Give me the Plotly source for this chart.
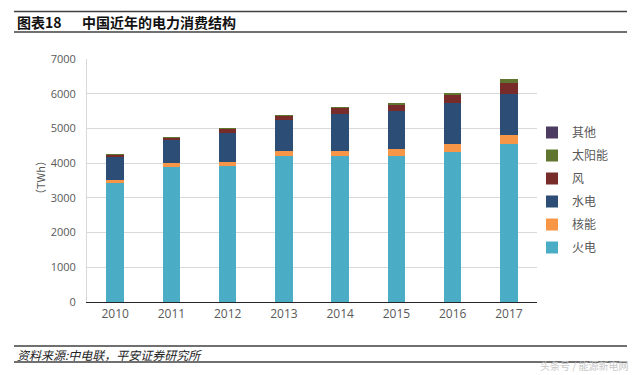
import plotly.graph_objects as go

years = ["2010", "2011", "2012", "2013", "2014", "2015", "2016", "2017"]
thermal = [3416, 3900, 3910, 4220, 4220, 4220, 4320, 4555]
nuclear = [85, 100, 110, 120, 135, 180, 230, 255]
hydro = [690, 680, 860, 890, 1070, 1110, 1175, 1185]
wind = [45, 70, 110, 145, 165, 190, 240, 305]
solar = [1, 3, 4, 8, 23, 39, 70, 118]
other = [0, 0, 0, 0, 0, 0, 0, 0]

series = [
    ("火电", thermal, "#4BACC6"),
    ("核能", nuclear, "#F79646"),
    ("水电", hydro, "#2C4D75"),
    ("风", wind, "#772C2A"),
    ("太阳能", solar, "#5F7530"),
    ("其他", other, "#4D3B62"),
]

W, H = 640, 375
L, R, T, B = 87, 537, 59, 302

fig = go.Figure()
for i, (name, vals, col) in enumerate(series):
    fig.add_trace(go.Bar(x=years, y=vals, name=name, legendgroup=name, legendrank=1000 - i,
                         marker=dict(color=col, line=dict(width=0))))

def px(x):
    return (x - L) / (R - L)

def py(y):
    return (B - y) / (B - T)

shapes = []
for yy in [11.5, 32, 346, 362]:
    shapes.append(dict(type="line", xref="paper", yref="paper", x0=px(14), x1=px(627), y0=py(yy), y1=py(yy),
                       line=dict(color="#404040", width=1.3)))

annotations = [
    dict(text="<b>图表18</b>", x=px(15), y=py(22), xref="paper", yref="paper", xanchor="left", yanchor="middle",
         showarrow=False, font=dict(size=14, color="#111111", family="Noto Sans CJK SC")),
    dict(text="<b>中国近年的电力消费结构</b>", x=px(80), y=py(22), xref="paper", yref="paper", xanchor="left", yanchor="middle",
         showarrow=False, font=dict(size=14, color="#111111", family="Noto Sans CJK SC")),
    dict(text="<i>资料来源:中电联，平安证券研究所</i>", x=px(15), y=py(354), xref="paper", yref="paper", xanchor="left",
         yanchor="middle", showarrow=False, font=dict(size=12, color="#222222", family="Noto Sans CJK SC")),
    dict(text="（TWh）", x=px(40), y=py(178), xref="paper", yref="paper", textangle=-90, xanchor="center",
         yanchor="middle", showarrow=False, font=dict(size=11, color="#595959", family="Noto Sans CJK SC")),
    dict(text="头条号 / 能源新电网", x=px(630), y=py(365), xref="paper", yref="paper", xanchor="right",
         yanchor="middle", showarrow=False, font=dict(size=10, color="#c8c8c8", family="Noto Sans CJK SC")),
]

fig.update_layout(
    width=W, height=H,
    margin=dict(l=L, r=W - R, t=T, b=H - B, pad=0, autoexpand=False),
    barmode="stack",
    bargap=0.69,
    plot_bgcolor="white",
    paper_bgcolor="white",
    font=dict(family="Noto Sans CJK SC", color="#595959"),
    showlegend=True,
    legend=dict(x=px(532), y=py(118), xanchor="left", yanchor="top", traceorder="grouped",
                font=dict(size=12, color="#595959"), itemwidth=30, tracegroupgap=4,
                bgcolor="rgba(0,0,0,0)"),
    xaxis=dict(showline=True, linecolor="#262626", linewidth=1.2, ticks="", tickfont=dict(size=12, color="#595959", family="Open Sans"),
               showgrid=False, automargin=False),
    yaxis=dict(range=[0, 7000], dtick=1000, showgrid=True, gridcolor="#D9D9D9", gridwidth=1, zeroline=False,
               showline=True, linecolor="#D9D9D9", ticks="", tickfont=dict(size=11, color="#595959", family="Open Sans"),
               ticklen=0, tickformat="d", ticklabelstandoff=8, automargin=False),
    shapes=shapes,
    annotations=annotations,
)

fig.write_html("out.html", config={"displayModeBar": False},
               post_script="document.body.style.margin='0';document.body.style.padding='0';")
